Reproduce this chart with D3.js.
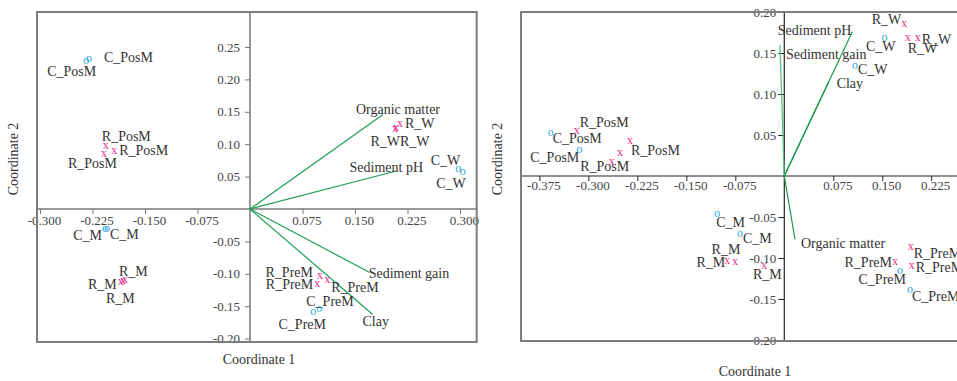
<!DOCTYPE html>
<meta charset="utf-8">
<style>
body { margin: 0; background: #fff; }
svg text { font-family: "Liberation Serif", "Times New Roman", serif; fill: #333; }
.tick text { font-size: 13px; fill: #444; }
.lab { font-size: 14px; }
.mark { font-size: 12px; text-anchor: middle; }
</style>
<body>
<script src="https://cdn.jsdelivr.net/npm/d3@7"></script>
<script>

// ---- left panel data ----
var leftNames = ["C_PosM","C_PosM","R_PosM","R_PosM","R_PosM","R_W","R_W","R_W","C_W","C_W",
                 "C_M","C_M","R_M","R_M","R_M","R_PreM","R_PreM","R_PreM","C_PreM","C_PreM"];
var leftX = [-0.234,-0.230,-0.206,-0.194,-0.2086,0.2143,0.2071,0.2086,0.2976,0.3039,
             -0.2071,-0.2043,-0.1786,-0.1847,-0.1814,0.100,0.1104,0.0961,0.0904,0.0990];
var leftY = [0.228,0.231,0.0965,0.0889,0.0849,0.1312,0.1230,0.1250,0.0613,0.0576,
             -0.0301,-0.0316,-0.1096,-0.1122,-0.1111,-0.1029,-0.1096,-0.1162,-0.1585,-0.1543];
var leftVars = ["Organic matter","Sediment pH","Sediment gain","Clay"];
var leftVecX = [0.190, 0.209, 0.171, 0.175];
var leftVecY = [0.146, 0.0586, -0.098, -0.1625];
var leftXTicks = [-0.300,-0.225,-0.150,-0.075,0.075,0.150,0.225,0.300];
var leftYTicks = [-0.20,-0.15,-0.10,-0.05,0.05,0.10,0.15,0.20,0.25];

// ---- right panel data ----
var rightNames = ["R_W","R_W","R_W","C_W","C_W","C_PosM","C_PosM","R_PosM","R_PosM","R_PosM","R_PosM",
                  "C_M","C_M","R_M","R_M","R_M","R_PreM","R_PreM","R_PreM","C_PreM","C_PreM"];
var rightX = [0.1838,0.189,0.2043,0.1536,0.1083,-0.3577,-0.3139,-0.318,-0.2363,-0.2516,-0.2643,
              -0.1026,-0.0679,-0.0873,-0.0755,-0.0306,0.1695,0.1936,0.1951,0.1772,0.1925];
var rightY = [0.1854,0.1687,0.1687,0.1679,0.1345,0.0521,0.0317,0.0552,0.043,0.0277,0.0167,
              -0.0467,-0.0711,-0.1037,-0.1045,-0.1098,-0.1052,-0.0862,-0.1098,-0.1162,-0.139];
var rightVars = ["Sediment pH","Sediment gain","Clay","Organic matter"];
var rightVecX = [0.1042, -0.0066, 0.0679, 0.0164];
var rightVecY = [0.176, 0.1598, 0.1146, -0.0772];
var rightXTicks = [-0.375,-0.300,-0.225,-0.150,-0.075,0.075,0.150,0.225,0.300];
var rightYTicks = [-0.20,-0.15,-0.10,-0.05,0.05,0.10,0.15,0.20];

// label placement [dx, dy, anchor] relative to each point (layout only)
var leftLabelPos = [[10,10,"end"],[15,-2,"start"],[-4,-10,"start"],[5,-1,"start"],[13,9,"end"],
  [5,-1,"start"],[5,12,"end"],[4,13,"start"],[2,-9,"end"],[3,11,"end"],
  [-3,6,"end"],[3,5,"start"],[-6,-9,"start"],[-4,2,"end"],[-17,17,"start"],
  [-7,-4,"end"],[4,7,"start"],[-4,0,"end"],[-11,12,"middle"],[-13,-8,"start"]];
var leftVecPos = [[15,-5,"middle"],[-10,-4,"middle"],[-1,0,"start"],[-10,7,"start"]];
var rightLabelPos = [[-3,-5,"end"],[0,10,"start"],[4,1,"start"],[11,8,"end"],[3,3,"start"],
  [2,5,"start"],[0,7,"end"],[3,-9,"start"],[1,9,"start"],null,[-7,4,"middle"],
  [-1,8,"start"],[3,4,"start"],[-2,1,"end"],[-9,-13,"middle"],[3,8,"middle"],
  [-3,0,"end"],[3,6,"start"],[4,1,"start"],[6,8,"end"],[2,6,"start"]];
var rightVecPos = [[-1,-2,"end"],[6,9,"start"],[8,1,"start"],[6,4,"start"]];

var svg = d3.select("body").append("svg")
    .attr("width", 957)
    .attr("height", 381);

var fmt = function(n) { return function(d) { return d.toFixed(n); }; };

function panel(p) {
  var x = p.x, y = p.y;
  var x0 = x.range()[0], x1 = x.range()[1];
  var yb = y.range()[0], yt = y.range()[1];
  var g = svg.append("g");
  var idx = d3.range(p.names.length);
  var vidx = d3.range(p.vars.length);

  // zero axes
  g.append("line").attr("x1", x(0)).attr("x2", x(0)).attr("y1", yt).attr("y2", yb)
      .attr("stroke", p.axisColor).attr("stroke-width", p.axisWidth);
  g.append("line").attr("x1", x0).attr("x2", x1).attr("y1", y(0)).attr("y2", y(0))
      .attr("stroke", p.axisColor).attr("stroke-width", p.axisWidth);

  var ax = g.append("g").attr("transform", "translate(0," + y(0) + ")")
      .call(d3.axisBottom(x).tickValues(p.xTicks).tickFormat(fmt(3)).tickSize(5).tickPadding(p.xPad));
  var ay = g.append("g").attr("transform", "translate(" + x(0) + ",0)")
      .call(d3.axisLeft(y).tickValues(p.yTicks).tickFormat(fmt(2)).tickSize(p.yTick).tickPadding(p.yPad));
  [ax, ay].forEach(function(a) {
    a.select(".domain").remove();
    a.attr("font-family", null).attr("font-size", null);
    a.selectAll(".tick line").attr("stroke", p.axisColor).attr("stroke-width", 1);
  });
  ax.selectAll(".tick text").attr("dx", 4);

  // vectors
  g.selectAll(".vec").data(vidx).enter().append("line")
      .attr("x1", x(0)).attr("y1", y(0))
      .attr("x2", function(i) { return x(p.vx[i]); })
      .attr("y2", function(i) { return y(p.vy[i]); })
      .attr("stroke", function(i) { return p.vecColor(p.vars[i]); })
      .attr("stroke-width", 1.2);
  g.selectAll(".vlab").data(vidx).enter().append("text")
      .attr("class", "lab")
      .attr("x", function(i) { return x(p.vx[i]) + p.vpos[i][0]; })
      .attr("y", function(i) { return y(p.vy[i]) + p.vpos[i][1] + 5; })
      .attr("text-anchor", function(i) { return p.vpos[i][2]; })
      .text(function(i) { return p.vars[i]; });

  // point labels
  g.selectAll(".plab").data(idx.filter(function(i) { return p.lpos[i]; })).enter()
    .append("text")
      .attr("class", "lab")
      .attr("x", function(i) { return x(p.px[i]) + p.lpos[i][0]; })
      .attr("y", function(i) { return y(p.py[i]) + p.lpos[i][1] + 5; })
      .attr("text-anchor", function(i) { return p.lpos[i][2]; })
      .text(function(i) { return p.names[i]; });

  // markers
  g.selectAll(".mark").data(idx).enter().append("text")
      .attr("class", "mark")
      .attr("x", function(i) { return x(p.px[i]); })
      .attr("y", function(i) { return y(p.py[i]) + 3; })
      .style("fill", function(i) { return p.names[i][0] === "R" ? "#e8318e" : "#2aa8e0"; })
      .text(function(i) { return p.names[i][0] === "R" ? "x" : "o"; });

  // frame
  g.append("rect").attr("x", x0).attr("y", yt).attr("width", x1 - x0).attr("height", yb - yt + 1)
      .attr("fill", "none").attr("stroke", "#7d7d7d").attr("stroke-width", 2);

  // axis titles
  g.append("text").attr("class", "lab").attr("text-anchor", "middle")
      .attr("x", p.t1[0]).attr("y", p.t1[1]).text("Coordinate 1");
  g.append("text").attr("class", "lab").attr("text-anchor", "middle")
      .attr("transform", "translate(" + p.t2[0] + "," + p.t2[1] + ") rotate(-90)")
      .text("Coordinate 2");
}

panel({
  x: d3.scaleLinear().domain([-0.3043, 0.3239]).range([37, 476.7]),
  y: d3.scaleLinear().domain([-0.2037, 0.304]).range([341, 12]),
  names: leftNames, px: leftX, py: leftY, lpos: leftLabelPos,
  vars: leftVars, vx: leftVecX, vy: leftVecY, vpos: leftVecPos,
  xTicks: leftXTicks, yTicks: leftYTicks,
  axisColor: "#777", axisWidth: 1.5, xPad: 2, yTick: 5, yPad: 5,
  vecColor: function() { return "#1e9e52"; },
  t1: [259, 364], t2: [18, 159]
});

panel({
  x: d3.scaleLinear().domain([-0.4032, 0.2844]).range([521, 970]),
  y: d3.scaleLinear().domain([-0.2, 0.2]).range([340, 12]),
  names: rightNames, px: rightX, py: rightY, lpos: rightLabelPos,
  vars: rightVars, vx: rightVecX, vy: rightVecY, vpos: rightVecPos,
  xTicks: rightXTicks, yTicks: rightYTicks,
  axisColor: "#222", axisWidth: 1.2, xPad: 0, yTick: 6, yPad: 2,
  vecColor: function(d) { return d === "Sediment gain" ? "#4cc27c" : "#1a9a4c"; },
  t1: [755, 376], t2: [502, 159]
});

</script>
